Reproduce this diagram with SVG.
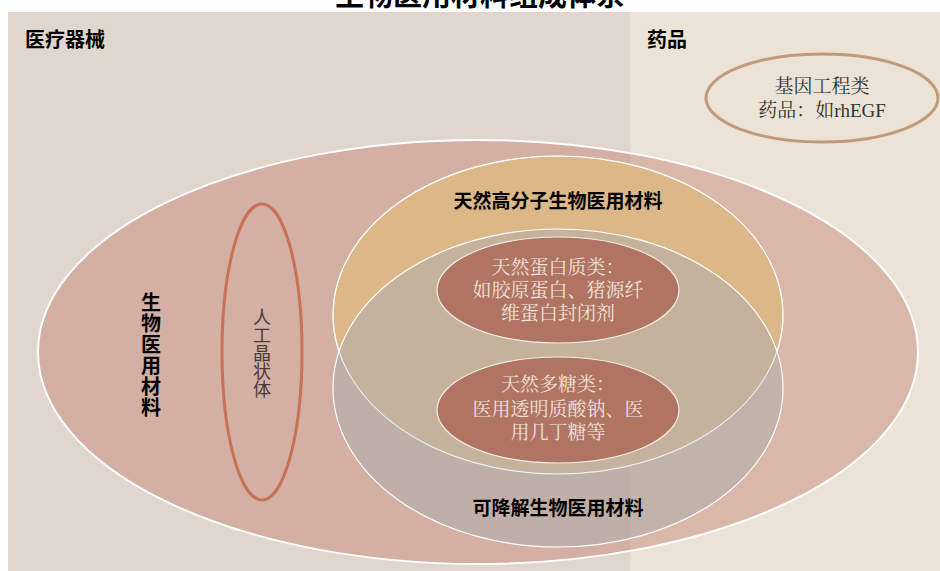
<svg xmlns="http://www.w3.org/2000/svg" width="940" height="571" viewBox="0 0 940 571">
<style>
.hd{font-family:"Noto Sans CJK SC","Noto Sans",sans-serif;font-weight:bold;fill:#000}
.sf{font-family:"Liberation Serif","Noto Serif CJK SC","Noto Sans CJK SC",serif}
.in{fill:#b07462;stroke:#f4ece6;stroke-width:1.2}
.wt{fill:#f1e2dc;font-size:19px;text-anchor:middle}
.vt{writing-mode:vertical-rl;text-anchor:middle}
</style>
<rect x="0" y="0" width="940" height="571" fill="#ffffff"/>
<text x="480" y="6" class="hd" font-size="29" text-anchor="middle">生物医用材料组成体系</text>
<g id="bg">
<rect x="8" y="12" width="622" height="559" fill="#e0d6cd"/>
<rect x="630" y="12" width="310" height="559" fill="#ece3d7"/>
</g>
<g id="labels-top">
<text x="25" y="47" class="hd" font-size="20">医疗器械</text>
<text x="647" y="47" class="hd" font-size="20">药品</text>
</g>
<g id="gene">
<ellipse cx="822" cy="98" rx="116" ry="44" fill="none" stroke="#c29a7b" stroke-width="3"/>
<text x="822" y="93" class="sf" font-size="19" fill="#333" text-anchor="middle">基因工程类</text>
<text x="822" y="117" class="sf" font-size="19" fill="#333" text-anchor="middle">药品：如rhEGF</text>
</g>
<g id="biomaterial">
<ellipse cx="478" cy="352" rx="440" ry="212" fill="#c07864" fill-opacity="0.4" stroke="#ffffff" stroke-width="2"/>
<text x="151" y="355" class="hd vt" font-size="20" letter-spacing="1">生物医用材料</text>
</g>
<g id="lens">
<ellipse cx="262" cy="352" rx="40" ry="148" fill="none" stroke="#c87157" stroke-width="3"/>
<text x="262" y="353" class="vt" font-family="Noto Sans CJK SC, sans-serif" font-size="18" fill="#4a3a36">人工晶状体</text>
</g>
<g id="natural">
<ellipse cx="558" cy="315" rx="225" ry="159" fill="#dcb888" stroke="#ffffff" stroke-width="1.2"/>
</g>
<g id="degradable">
<ellipse cx="558" cy="388" rx="225" ry="159" fill="#b4adac" fill-opacity="0.6" stroke="#ffffff" stroke-width="1.2"/>
<text x="558" y="515" class="hd" font-size="19" text-anchor="middle">可降解生物医用材料</text>
</g>
<g id="natural-label">
<ellipse cx="558" cy="315" rx="225" ry="159" fill="none" stroke="#ffffff" stroke-width="1" stroke-opacity="0.7"/>
<text x="558" y="208" class="hd" font-size="19" text-anchor="middle">天然高分子生物医用材料</text>
</g>
<g id="protein">
<ellipse cx="558" cy="290" rx="121" ry="53" class="in"/>
<text class="sf wt"><tspan x="558" y="274">天然蛋白质类：</tspan><tspan x="558" y="297">如胶原蛋白、猪源纤</tspan><tspan x="558" y="320">维蛋白封闭剂</tspan></text>
</g>
<g id="polysaccharide">
<ellipse cx="558" cy="410" rx="121" ry="53" class="in"/>
<text class="sf wt"><tspan x="558" y="391">天然多糖类：</tspan><tspan x="558" y="416">医用透明质酸钠、医</tspan><tspan x="558" y="439">用几丁糖等</tspan></text>
</g>
<g id="connectors"></g>
</svg>
